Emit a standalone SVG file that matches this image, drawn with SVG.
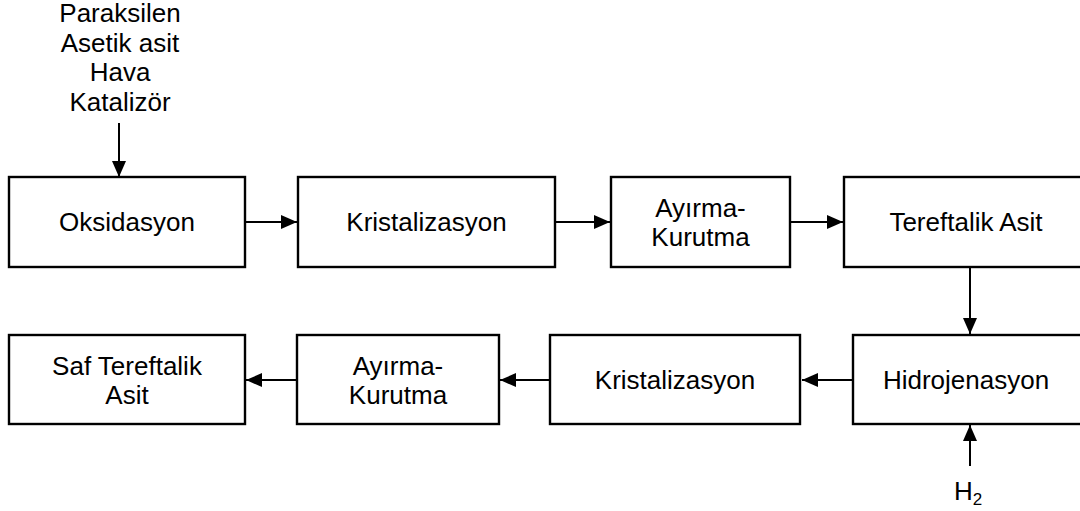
<svg xmlns="http://www.w3.org/2000/svg" width="1080" height="511" viewBox="0 0 1080 511">
<defs>
<style>
.box{fill:#fff;stroke:#000;stroke-width:2.4}
.t{font-family:"Liberation Sans",Arial,sans-serif;font-size:26px;fill:#000;text-anchor:middle}
.c{stroke:#000;stroke-width:2;fill:none}
</style>
<marker id="ah" viewBox="0 0 16 14" refX="16" refY="7" markerWidth="16" markerHeight="14" markerUnits="userSpaceOnUse" orient="auto">
<path d="M0,0 L16,7 L0,14 Z" fill="#000"/>
</marker>
</defs>
<rect width="1080" height="511" fill="#fff"/>
<g id="inputs">
<text class="t" x="120" y="22">Paraksilen</text>
<text class="t" x="120" y="52">Asetik asit</text>
<text class="t" x="120" y="81">Hava</text>
<text class="t" x="120" y="111">Katalizör</text>
</g>
<g id="oksidasyon"><rect class="box" x="9" y="177" width="236" height="90"/><text class="t" x="127" y="231">Oksidasyon</text></g>
<g id="kristalizasyon1"><rect class="box" x="298" y="177" width="257" height="90"/><text class="t" x="426.5" y="231">Kristalizasyon</text></g>
<g id="ayirma1"><rect class="box" x="611" y="177" width="179" height="90"/><text class="t" x="700.5" y="217">Ayırma-</text><text class="t" x="700.5" y="246">Kurutma</text></g>
<g id="tereftalik"><rect class="box" x="844" y="177" width="246" height="90"/><text class="t" x="966" y="231">Tereftalik Asit</text></g>
<g id="saf"><rect class="box" x="9" y="335" width="236" height="89"/><text class="t" x="127" y="375">Saf Tereftalik</text><text class="t" x="127" y="404">Asit</text></g>
<g id="ayirma2"><rect class="box" x="297" y="335" width="202" height="89"/><text class="t" x="398" y="375">Ayırma-</text><text class="t" x="398" y="404">Kurutma</text></g>
<g id="kristalizasyon2"><rect class="box" x="550" y="335" width="250" height="89"/><text class="t" x="675" y="389">Kristalizasyon</text></g>
<g id="hidrojenasyon"><rect class="box" x="853" y="335" width="237" height="89"/><text class="t" x="966" y="389">Hidrojenasyon</text></g>
<g id="h2"><text class="t" x="968" y="500">H<tspan font-size="17" dy="5">2</tspan></text></g>
<g id="connectors">
<line class="c" x1="119" y1="123" x2="119" y2="177" marker-end="url(#ah)"/>
<line class="c" x1="245" y1="222" x2="297" y2="222" marker-end="url(#ah)"/>
<line class="c" x1="555" y1="222" x2="610" y2="222" marker-end="url(#ah)"/>
<line class="c" x1="790" y1="222" x2="843" y2="222" marker-end="url(#ah)"/>
<line class="c" x1="970" y1="267" x2="970" y2="334" marker-end="url(#ah)"/>
<line class="c" x1="853" y1="380" x2="802" y2="380" marker-end="url(#ah)"/>
<line class="c" x1="550" y1="380" x2="500" y2="380" marker-end="url(#ah)"/>
<line class="c" x1="297" y1="380" x2="246" y2="380" marker-end="url(#ah)"/>
<line class="c" x1="970" y1="466" x2="970" y2="425" marker-end="url(#ah)"/>
</g>
</svg>
